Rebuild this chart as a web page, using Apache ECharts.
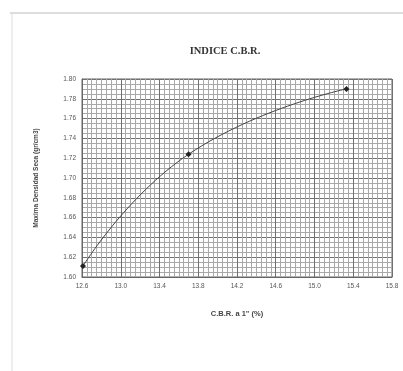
<!DOCTYPE html>
<html>
<head>
<meta charset="utf-8">
<script src="https://cdn.jsdelivr.net/npm/echarts@6/dist/echarts.min.js"></script>
<style>
  html, body { margin: 0; padding: 0; background: #fff; }
  #chart { width: 403px; height: 371px; }
</style>
</head>
<body>
<div id="chart"></div>
<script>
// Ensayo C.B.R.: densidad seca vs. C.B.R. a 1"
const cbrValues = [12.61, 13.70, 15.33];          // C.B.R. a 1" (%)
const densityValues = [1.611, 1.724, 1.790];       // Máxima densidad seca (gr/cm3)

const xMin = 12.6, xMax = 15.8, xStep = 0.4;
const yMin = 1.60, yMax = 1.80, yStep = 0.02;

const titleText = 'INDICE C.B.R.';
const xAxisName = 'C.B.R. a 1" (%)';
const yAxisName = 'Maxima Densidad Seca (gr/cm3)';

const points = cbrValues.map((x, i) => [x, densityValues[i]]);

const chart = echarts.init(document.getElementById('chart'), null, { renderer: 'canvas' });

chart.setOption({
  animation: false,
  backgroundColor: '#ffffff',
  title: {
    text: titleText,
    left: 220,
    top: 41,
    textAlign: 'center',
    textStyle: { fontFamily: 'Liberation Serif', fontWeight: 'bold', fontSize: 10.5, color: '#333' }
  },
  graphic: [
    { type: 'line', shape: { x1: 10, y1: 13, x2: 403, y2: 13 }, style: { stroke: '#bbb', lineWidth: 1 } },
    { type: 'line', shape: { x1: 12, y1: 13, x2: 12, y2: 371 }, style: { stroke: '#ddd', lineWidth: 1 } }
  ],
  grid: { left: 82, right: 11, top: 79, bottom: 94, show: true, borderColor: '#666', borderWidth: 1 },
  xAxis: {
    type: 'value',
    min: xMin, max: xMax, interval: xStep,
    name: xAxisName,
    nameLocation: 'middle',
    nameGap: 33,
    nameTextStyle: { fontFamily: 'Liberation Sans', fontWeight: 'bold', fontSize: 7.5, color: '#444' },
    axisLine: { show: true, lineStyle: { color: '#666' } },
    axisTick: { show: false },
    minorTick: { show: false, splitNumber: 8 },
    axisLabel: { fontSize: 6.5, color: '#555', margin: 6, formatter: v => v.toFixed(1) },
    splitLine: { show: true, lineStyle: { color: '#707070', width: 1 } },
    minorSplitLine: { show: true, lineStyle: { color: '#a8a8a8', width: 1 } }
  },
  yAxis: {
    type: 'value',
    min: yMin, max: yMax, interval: yStep,
    name: yAxisName,
    nameLocation: 'middle',
    nameGap: 42,
    nameRotate: 90,
    nameTextStyle: { fontFamily: 'Liberation Sans', fontWeight: 'bold', fontSize: 6.5, color: '#444' },
    axisLine: { show: true, lineStyle: { color: '#666' } },
    axisTick: { show: false },
    minorTick: { show: false, splitNumber: 4 },
    axisLabel: { fontSize: 6.5, color: '#555', margin: 6, formatter: v => v.toFixed(2) },
    splitLine: { show: true, lineStyle: { color: '#707070', width: 1 } },
    minorSplitLine: { show: true, lineStyle: { color: '#a8a8a8', width: 1 } }
  },
  series: [{
    type: 'line',
    data: points,
    smooth: 0.5,
    symbol: 'diamond',
    symbolSize: 6,
    itemStyle: { color: '#222' },
    lineStyle: { color: '#444', width: 1 }
  }]
});
</script>
</body>
</html>
